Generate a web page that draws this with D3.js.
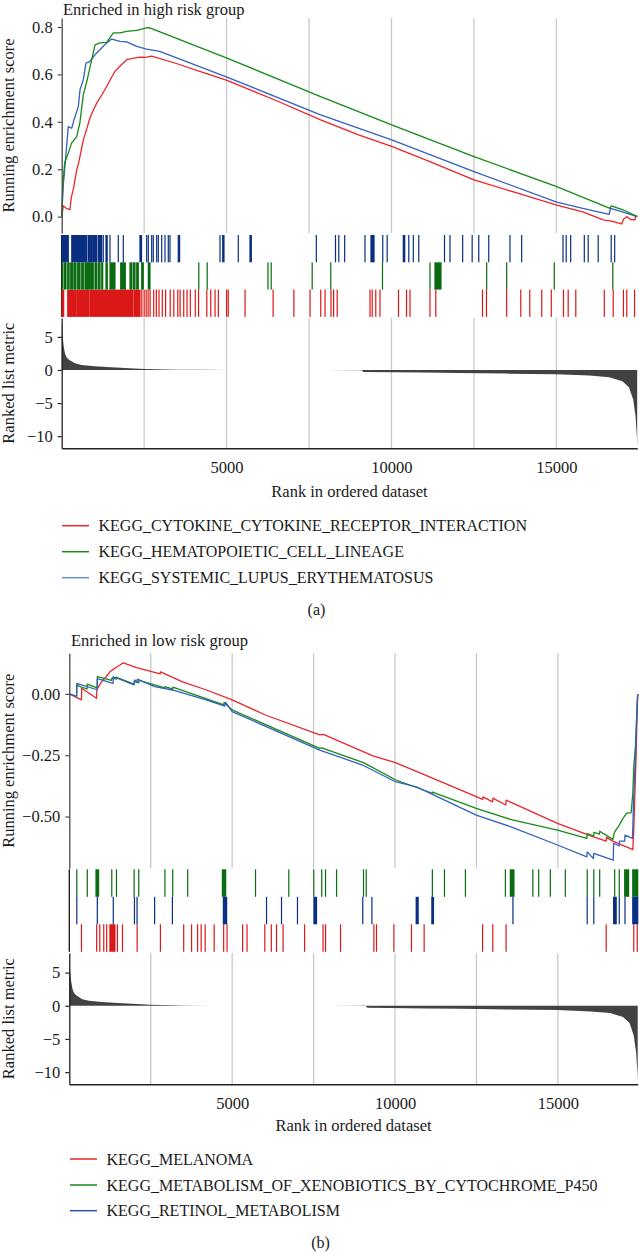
<!DOCTYPE html>
<html><head><meta charset="utf-8">
<script src="https://cdn.jsdelivr.net/npm/d3@7"></script>
<style>
body{margin:0;background:#fff;}
svg text{font-family:"Liberation Serif","Times New Roman",Times,"Tinos","DejaVu Serif","Noto Serif",serif !important;fill:#1a1a1a;}
</style>
</head><body>
<svg id="c" width="639" height="1252"></svg>
<script>
// ---------------- DATA ----------------
const N = 17450;
const rankTicks = [5000, 10000, 15000];
const gridRanks = [2500, 5000, 7500, 10000, 12500, 15000];
const esTicksA = [0, 0.2, 0.4, 0.6, 0.8];
const esTicksB = [-0.5, -0.25, 0];
const metricTicks = [-10, -5, 0, 5];

// ranked list metric [rank, value]
const metricCurve = [[1,7.3],[10,6.5],[30,5],[60,3.6],[100,2.5],[150,1.9],[230,1.5],[400,1.0],[600,0.75],[1000,0.55],[1500,0.4],[2500,0.15],[3500,0.05],[4300,0.02],[5000,0.005],[8000,-0.01],[9100,-0.05],[9150,-0.3],[11000,-0.4],[12000,-0.45],[13500,-0.55],[15000,-0.65],[16000,-0.85],[16600,-1.1],[17000,-1.7],[17200,-2.6],[17330,-4.5],[17400,-7],[17440,-10],[17450,-11.5]];

// Panel (a) gene sets
const namesA = ["KEGG_CYTOKINE_CYTOKINE_RECEPTOR_INTERACTION","KEGG_HEMATOPOIETIC_CELL_LINEAGE","KEGG_SYSTEMIC_LUPUS_ERYTHEMATOSUS"];
const esA_red = [[0,0],[50,0.045],[140,0.035],[250,0.03],[290,0.08],[360,0.12],[455,0.197],[520,0.23],[655,0.324],[760,0.37],[858,0.417],[960,0.45],[1061,0.479],[1200,0.51],[1364,0.549],[1500,0.585],[1616,0.613],[1800,0.64],[1971,0.662],[2150,0.668],[2374,0.673],[2550,0.672],[2729,0.677],[3500,0.645],[4300,0.608],[5012,0.575],[6500,0.49],[7832,0.409],[9000,0.345],[10006,0.296],[11200,0.23],[12502,0.155],[13800,0.1],[15009,0.049],[15800,0.02],[16422,-0.014],[16700,-0.02],[16980,-0.031],[17040,-0.01],[17132,0.0],[17250,-0.012],[17384,-0.014],[17400,0.005],[17450,0]];
const esA_green = [[0,0],[30,0.12],[90,0.227],[200,0.268],[300,0.31],[455,0.338],[550,0.395],[655,0.514],[760,0.57],[910,0.662],[1010,0.725],[1160,0.733],[1364,0.735],[1565,0.775],[1770,0.775],[1970,0.782],[2270,0.786],[2575,0.796],[2650,0.797],[5012,0.669],[7832,0.507],[10006,0.387],[12502,0.253],[15009,0.127],[16625,0.035],[16660,0.045],[17000,0.03],[17450,0]];
const esA_blue = [[0,0],[45,0.127],[200,0.38],[303,0.373],[375,0.409],[505,0.465],[555,0.535],[655,0.578],[737,0.648],[858,0.655],[1010,0.683],[1160,0.704],[1364,0.733],[1516,0.749],[1768,0.739],[1970,0.737],[2274,0.718],[2577,0.707],[2971,0.697],[5012,0.589],[7832,0.43],[10006,0.324],[12502,0.19],[15009,0.061],[15800,0.035],[16600,0.01],[16640,0.035],[17000,0.02],[17450,0]];
const hitsA_red = [[10,60],[182,440],[470,820],[855,1600],[1630,2150],[2190,2374],2430,2500,2560,2620,2680,2790,2870,2950,3050,3150,3290,3400,3520,3590,3700,3800,3900,4050,4150,4400,4520,4650,4750,5000,5050,5560,6410,7040,7530,7855,7985,8165,8245,8353,9348,9415,9523,9651,10212,10455,10561,11167,11343,12759,12880,13492,13920,14193,14556,14845,15215,15357,15588,16452,16722,17033,17134,17370];
const hitsA_green = [20,[70,130],[182,225],[273,333],[373,433],[485,555],[606,655],[706,776],[790,858],[880,958],[1010,1061],[1110,1161],[1213,1243],[1343,1383],[1464,1616],[1789,1928],[2071,2122],[2171,2222],[2274,2322],[2426,2474],[2626,2677],4157,4412,6255,6352,7595,8159,9727,11167,[11318,11500],12886,13492,14936,16710];
const hitsA_blue = [[10,200],[305,760],[806,910],[940,1061],[1110,1213],1261,[1343,1380],1464,1716,1868,[2374,2420],2577,2626,2729,2777,2880,2929,3032,3132,3232,3283,[3535,3575],4800,[4882,4920],5354,[5709,5750],7720,8302,8402,8580,9196,[9378,9470],9735,9869,[10358,10400],10524,10661,10827,11607,11773,12158,12446,12646,12949,13592,13947,15200,15297,15433,15846,15964,16267,16661,16767];

// Panel (b) gene sets
const namesB = ["KEGG_MELANOMA","KEGG_METABOLISM_OF_XENOBIOTICS_BY_CYTOCHROME_P450","KEGG_RETINOL_METABOLISM"];
const esB_red = [[0,0],[375,-0.024],[380,0.023],[835,-0.018],[845,0.016],[941,0.04],[1043,0.058],[1147,0.072],[1248,0.09],[1350,0.1],[1454,0.11],[1555,0.118],[1656,0.127],[2067,0.107],[2790,0.082],[2800,0.09],[3496,0.048],[4214,0.016],[5000,-0.024],[6000,-0.085],[7689,-0.167],[7800,-0.165],[9324,-0.253],[10011,-0.28],[10857,-0.327],[12495,-0.419],[12690,-0.43],[12700,-0.42],[12995,-0.44],[13005,-0.425],[13400,-0.453],[13410,-0.433],[14988,-0.528],[16071,-0.582],[16480,-0.6],[16490,-0.585],[16685,-0.6],[17300,-0.635],[17330,-0.55],[17400,-0.256],[17436,-0.05],[17450,0]];
const esB_green = [[0,0],[225,-0.01],[230,0.035],[545,0.02],[552,0.04],[855,0.025],[862,0.071],[1300,0.055],[1310,0.065],[1445,0.06],[1450,0.068],[1990,0.04],[2000,0.05],[2130,0.045],[2135,0.055],[2935,0.025],[2940,0.03],[3175,0.02],[3180,0.028],[4745,-0.045],[4750,-0.035],[5000,-0.065],[7689,-0.222],[7750,-0.22],[9032,-0.28],[10011,-0.35],[11146,-0.405],[11150,-0.4],[12495,-0.467],[13600,-0.514],[14988,-0.555],[15890,-0.589],[15900,-0.57],[16100,-0.58],[16105,-0.565],[16280,-0.572],[16285,-0.56],[16685,-0.593],[16743,-0.562],[16884,-0.535],[17000,-0.507],[17105,-0.487],[17250,-0.484],[17300,-0.405],[17330,-0.297],[17380,-0.215],[17420,-0.1],[17450,0]];
const esB_blue = [[0,0],[225,-0.01],[230,0.043],[855,0.017],[860,0.062],[1345,0.043],[1350,0.07],[1990,0.037],[2000,0.057],[2080,0.05],[2090,0.06],[2620,0.03],[3165,0.016],[4200,-0.024],[4770,-0.05],[4800,-0.035],[5000,-0.072],[7689,-0.229],[9000,-0.29],[10011,-0.358],[10680,-0.38],[12495,-0.494],[13600,-0.544],[14988,-0.616],[15890,-0.664],[15900,-0.644],[16090,-0.671],[16100,-0.65],[16700,-0.678],[16710,-0.609],[16880,-0.62],[16890,-0.6],[17050,-0.6],[17060,-0.576],[17290,-0.589],[17320,-0.45],[17380,-0.25],[17420,-0.08],[17450,0]];
const hitsB_red = [374,840,936,1058,1147,[1248,1401],1478,1632,2083,2797,3512,3754,3938,4048,4171,4447,4739,4843,5321,5456,6002,6202,6361,6563,7223,7790,7867,8327,9351,9431,9965,10505,10894,12688,13001,13409,16482,17329,17436];
const hitsB_green = [230,552,[820,900],1304,1448,1990,2132,2935,3175,3635,[4700,4800],5717,6738,7505,7750,7867,8205,9032,9115,11146,11518,12161,13388,[13540,13650],14231,14411,14768,15228,15900,16102,16283,16743,16884,[17050,17170],[17298,17450]];
const hitsB_blue = [230,860,1350,2000,2080,2620,3165,[4730,4830],6055,6515,7005,[7510,7590],9010,9290,[10650,10710],[11130,11180],13620,15900,16102,[16710,16790],16884,17060,[17298,17450]];

// ---------------- DRAW ----------------
const FONT = '"Liberation Serif","Times New Roman",Times,"Tinos","DejaVu Serif","Noto Serif",serif';
const svg = d3.select("#c");
const C = {red:"#e8262b", green:"#178a17", blue:"#3460c2",
           sRed:"#db1818", sGreen:"#0a6b12", sBlue:"#0a2f82"};

function drawPanel(p){
  const g = svg.append("g").style("font-family", FONT);
  const x = d3.scaleLinear().domain([0, N]).range(p.xRange);
  const yE = d3.scaleLinear().domain(p.esDomain).range([p.esBot, p.esTop]);
  const yM = d3.scaleLinear().domain(p.metDomain).range([p.metBot, p.metTop]);
  const x0 = p.xRange[0];

  // grid lines
  [[p.esTop, p.esBot], [p.metTop, p.metBot]].forEach(([t, b]) => {
    g.append("g").selectAll("line").data(gridRanks).join("line")
      .attr("x1", d => x(d)).attr("x2", d => x(d)).attr("y1", t).attr("y2", b)
      .attr("stroke", "#c9c9c9").attr("stroke-width", 1.3);
  });

  // title
  g.append("text").attr("x", p.titleX).attr("y", p.titleY)
    .style("font-family", FONT).attr("font-size", 16.5).text(p.title);

  // ES curves
  const line = d3.line().x(d => x(d[0])).y(d => yE(d[1]));
  p.drawOrder.forEach(i => {
    const s = p.sets[i];
    g.append("path").attr("d", line(s.es)).attr("fill", "none")
      .attr("stroke", s.color).attr("stroke-width", 1.3).attr("stroke-linejoin", "round");
  });

  // ES axis
  const axE = g.append("g").attr("transform", `translate(${x0},0)`)
    .call(d3.axisLeft(yE).tickValues(p.esTicks).tickFormat(d3.format(p.esFmt)).tickSize(4).tickSizeOuter(0).tickPadding(5));
  axE.attr("font-family", null);
  axE.select(".domain").attr("stroke", "#4a4a4a").attr("stroke-width", 1.3);
  axE.selectAll(".tick line").attr("stroke", "#4a4a4a").attr("stroke-width", 1.2);
  axE.selectAll("text").attr("font-size", 16.5).style("font-family", FONT).attr("fill", "#1a1a1a");

  // strip left border
  g.append("line").attr("x1", x0).attr("x2", x0)
    .attr("y1", p.stripTop).attr("y2", p.stripTop + 3 * p.stripH)
    .attr("stroke", "#111").attr("stroke-width", 1.3);

  // hit strips
  p.sets.forEach(s => {
    const top = p.stripTop + s.strip * p.stripH;
    g.append("g").selectAll("rect").data(s.hits).join("rect")
      .attr("x", d => Array.isArray(d) ? x(d[0]) - 0.6 : x(d) - 0.6)
      .attr("width", d => Array.isArray(d) ? x(d[1]) - x(d[0]) + 1.2 : 1.2)
      .attr("y", top).attr("height", p.stripH)
      .attr("fill", s.stripColor);
  });

  // ranked metric
  const area = d3.area().x(d => x(d[0])).y0(yM(0)).y1(d => yM(d[1]));
  g.append("path").attr("d", area(metricCurve)).attr("fill", "#424242");

  // metric axes
  const axM = g.append("g").attr("transform", `translate(${x0},0)`)
    .call(d3.axisLeft(yM).tickValues(metricTicks).tickFormat(d3.format("d")).tickSize(4).tickSizeOuter(0).tickPadding(5));
  axM.attr("font-family", null);
  axM.select(".domain").attr("stroke", "#222").attr("stroke-width", 1.3);
  axM.selectAll(".tick line").attr("stroke", "#222").attr("stroke-width", 1.2);
  axM.selectAll("text").attr("font-size", 16.5).style("font-family", FONT).attr("fill", "#1a1a1a");

  const axX = g.append("g").attr("transform", `translate(0,${p.metBot})`)
    .call(d3.axisBottom(x).tickValues(rankTicks).tickFormat(d3.format("d")).tickSize(0).tickSizeOuter(0).tickPadding(13));
  axX.attr("font-family", null);
  axX.select(".domain").attr("stroke", "#222").attr("stroke-width", 1.5);
  axX.selectAll("text").attr("font-size", 16.5).style("font-family", FONT).attr("fill", "#1a1a1a");

  // axis titles
  const cx = (p.xRange[0] + p.xRange[1]) / 2;
  g.append("text").attr("x", cx).attr("y", p.xTitleY).attr("text-anchor", "middle")
    .style("font-family", FONT).attr("font-size", 16.5).text("Rank in ordered dataset");
  g.append("text").attr("transform", `translate(${p.yTitleX},${(p.esTop + p.esBot) / 2}) rotate(-90)`)
    .attr("text-anchor", "middle").style("font-family", FONT).attr("font-size", 16.5).text("Running enrichment score");
  g.append("text").attr("transform", `translate(${p.yTitleX},${(p.metTop + p.metBot) / 2}) rotate(-90)`)
    .attr("text-anchor", "middle").style("font-family", FONT).attr("font-size", 16.5).text("Ranked list metric");

  // legend
  p.sets.forEach((s, i) => {
    const yy = p.legendY[i];
    g.append("line").attr("x1", p.legendX).attr("x2", p.legendX + 27).attr("y1", yy).attr("y2", yy)
      .attr("stroke", s.legendColor).attr("stroke-width", 1.5);
    g.append("text").attr("x", p.legendX + 36.5).attr("y", yy + 5.6)
      .style("font-family", FONT).attr("font-size", 16).text(s.name);
  });

  // caption
  g.append("text").attr("x", cx - 33).attr("y", p.captionY).attr("text-anchor", "middle")
    .style("font-family", FONT).attr("font-size", 16).text(p.caption);
}

drawPanel({
  xRange: [61.7, 637.2], esTop: 18, esBot: 233, esDomain: [-0.069, 0.838],
  esTicks: esTicksA, esFmt: ".1f",
  stripTop: 235, stripH: 27.3,
  metTop: 318, metBot: 448.3, metDomain: [-11.83, 7.85],
  title: "Enriched in high risk group", titleX: 63, titleY: 14.5,
  xTitleY: 497, yTitleX: 14,
  legendX: 62, legendY: [525.7, 551.7, 577.7],
  caption: "(a)", captionY: 615,
  drawOrder: [0, 2, 1],
  sets: [
    {name: namesA[0], color: C.red, stripColor: C.sRed, legendColor: C.red, es: esA_red, hits: hitsA_red, strip: 2},
    {name: namesA[1], color: C.green, stripColor: C.sGreen, legendColor: C.green, es: esA_green, hits: hitsA_green, strip: 1},
    {name: namesA[2], color: C.blue, stripColor: C.sBlue, legendColor: "#6b8fd4", es: esA_blue, hits: hitsA_blue, strip: 0}
  ]
});

drawPanel({
  xRange: [69.3, 637.7], esTop: 653.3, esBot: 868.3, esDomain: [-0.711, 0.1656],
  esTicks: esTicksB, esFmt: ".2f",
  stripTop: 869.3, stripH: 27.5,
  metTop: 953, metBot: 1084.3, metDomain: [-11.83, 7.95],
  title: "Enriched in low risk group", titleX: 71, titleY: 646,
  xTitleY: 1130.5, yTitleX: 14,
  legendX: 70, legendY: [1159, 1185, 1210.7],
  caption: "(b)", captionY: 1248,
  drawOrder: [0, 1, 2],
  sets: [
    {name: namesB[0], color: C.red, stripColor: C.sRed, legendColor: C.red, es: esB_red, hits: hitsB_red, strip: 2},
    {name: namesB[1], color: C.green, stripColor: C.sGreen, legendColor: C.green, es: esB_green, hits: hitsB_green, strip: 0},
    {name: namesB[2], color: C.blue, stripColor: C.sBlue, legendColor: "#2f4fb8", es: esB_blue, hits: hitsB_blue, strip: 1}
  ]
});
</script>
</body></html>
